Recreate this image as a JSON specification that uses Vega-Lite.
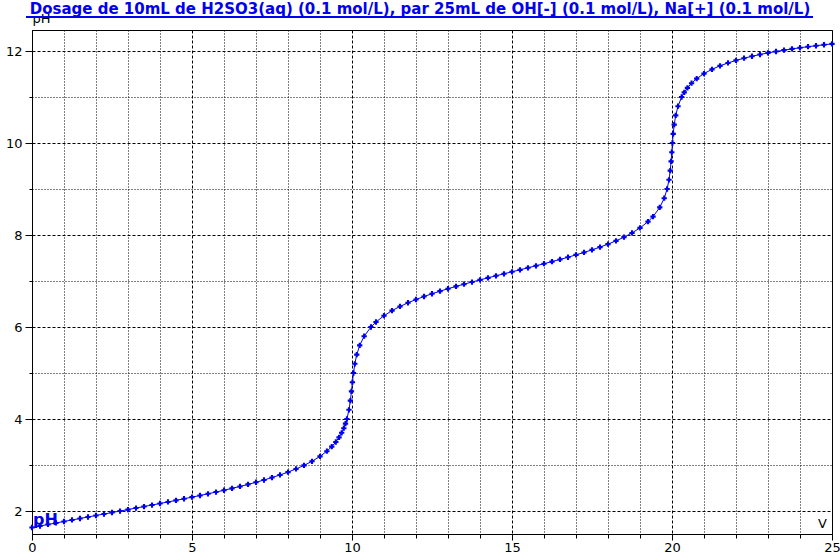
{
  "$schema": "https://vega.github.io/schema/vega-lite/v6.json",
  "width": 800,
  "height": 504,
  "autosize": {"type": "none"},
  "padding": {"left": 32, "top": 30, "right": 8, "bottom": 26},
  "background": "white",
  "config": {"view": {"stroke": "black", "strokeWidth": 1}, "font": "DejaVu Sans"},
  "title": {
    "text": "Dosage de 10mL de H2SO3(aq) (0.1 mol/L),  par 25mL  de OH[-] (0.1 mol/L), Na[+] (0.1 mol/L)",
    "font": "DejaVu Sans", "fontSize": 15, "fontWeight": "bold", "color": "#0000f0",
    "anchor": "middle", "frame": "group", "dx": -12, "offset": -17, "baseline": "alphabetic"
  },
  "data": {"values": [
    {"V": 0, "pH": 1.641}, {"V": 0.25, "pH": 1.674}, {"V": 0.5, "pH": 1.707}, {"V": 0.75, "pH": 1.740},
    {"V": 1, "pH": 1.772}, {"V": 1.25, "pH": 1.805}, {"V": 1.5, "pH": 1.837}, {"V": 1.75, "pH": 1.870},
    {"V": 2, "pH": 1.902}, {"V": 2.25, "pH": 1.934}, {"V": 2.5, "pH": 1.967}, {"V": 2.75, "pH": 1.999},
    {"V": 3, "pH": 2.031}, {"V": 3.25, "pH": 2.064}, {"V": 3.5, "pH": 2.097}, {"V": 3.75, "pH": 2.130},
    {"V": 4, "pH": 2.163}, {"V": 4.25, "pH": 2.197}, {"V": 4.5, "pH": 2.231}, {"V": 4.75, "pH": 2.266},
    {"V": 5, "pH": 2.301}, {"V": 5.25, "pH": 2.337}, {"V": 5.5, "pH": 2.374}, {"V": 5.75, "pH": 2.412},
    {"V": 6, "pH": 2.451}, {"V": 6.25, "pH": 2.492}, {"V": 6.5, "pH": 2.534}, {"V": 6.75, "pH": 2.578},
    {"V": 7, "pH": 2.625}, {"V": 7.25, "pH": 2.674}, {"V": 7.5, "pH": 2.727}, {"V": 7.75, "pH": 2.784},
    {"V": 8, "pH": 2.846}, {"V": 8.25, "pH": 2.914}, {"V": 8.5, "pH": 2.991}, {"V": 8.75, "pH": 3.081},
    {"V": 9, "pH": 3.187}, {"V": 9.215, "pH": 3.3}, {"V": 9.368, "pH": 3.4}, {"V": 9.494, "pH": 3.5},
    {"V": 9.595, "pH": 3.6}, {"V": 9.677, "pH": 3.7}, {"V": 9.744, "pH": 3.8}, {"V": 9.797, "pH": 3.9},
    {"V": 9.841, "pH": 4.0}, {"V": 9.905, "pH": 4.2}, {"V": 9.949, "pH": 4.4}, {"V": 9.983, "pH": 4.6},
    {"V": 10.013, "pH": 4.8}, {"V": 10.046, "pH": 5.0}, {"V": 10.088, "pH": 5.2}, {"V": 10.149, "pH": 5.4},
    {"V": 10.241, "pH": 5.6}, {"V": 10.38, "pH": 5.8}, {"V": 10.592, "pH": 6.0},
    {"V": 10.75, "pH": 6.109}, {"V": 11, "pH": 6.246}, {"V": 11.25, "pH": 6.355}, {"V": 11.5, "pH": 6.447},
    {"V": 11.75, "pH": 6.527}, {"V": 12, "pH": 6.598}, {"V": 12.25, "pH": 6.663}, {"V": 12.5, "pH": 6.723},
    {"V": 12.75, "pH": 6.779}, {"V": 13, "pH": 6.832}, {"V": 13.25, "pH": 6.883}, {"V": 13.5, "pH": 6.931},
    {"V": 13.75, "pH": 6.978}, {"V": 14, "pH": 7.024}, {"V": 14.25, "pH": 7.069}, {"V": 14.5, "pH": 7.113},
    {"V": 14.75, "pH": 7.157}, {"V": 15, "pH": 7.2}, {"V": 15.25, "pH": 7.243}, {"V": 15.5, "pH": 7.287},
    {"V": 15.75, "pH": 7.331}, {"V": 16, "pH": 7.376}, {"V": 16.25, "pH": 7.422}, {"V": 16.5, "pH": 7.469},
    {"V": 16.75, "pH": 7.517}, {"V": 17, "pH": 7.568}, {"V": 17.25, "pH": 7.621}, {"V": 17.5, "pH": 7.677},
    {"V": 17.75, "pH": 7.737}, {"V": 18, "pH": 7.802}, {"V": 18.25, "pH": 7.873}, {"V": 18.5, "pH": 7.953},
    {"V": 18.75, "pH": 8.045}, {"V": 19, "pH": 8.154}, {"V": 19.25, "pH": 8.291}, {"V": 19.407, "pH": 8.4},
    {"V": 19.618, "pH": 8.6}, {"V": 19.757, "pH": 8.8}, {"V": 19.847, "pH": 9.0}, {"V": 19.906, "pH": 9.2},
    {"V": 19.945, "pH": 9.4}, {"V": 19.972, "pH": 9.6}, {"V": 19.994, "pH": 9.8}, {"V": 20.014, "pH": 10.0},
    {"V": 20.038, "pH": 10.2}, {"V": 20.069, "pH": 10.4}, {"V": 20.116, "pH": 10.6}, {"V": 20.188, "pH": 10.8},
    {"V": 20.301, "pH": 11.0}, {"V": 20.383, "pH": 11.1}, {"V": 20.482, "pH": 11.2}, {"V": 20.611, "pH": 11.3},
    {"V": 20.772, "pH": 11.4}, {"V": 21, "pH": 11.509}, {"V": 21.25, "pH": 11.602}, {"V": 21.5, "pH": 11.678},
    {"V": 21.75, "pH": 11.741}, {"V": 22, "pH": 11.796}, {"V": 22.25, "pH": 11.844}, {"V": 22.5, "pH": 11.886},
    {"V": 22.75, "pH": 11.924}, {"V": 23, "pH": 11.959}, {"V": 23.25, "pH": 11.99}, {"V": 23.5, "pH": 12.019},
    {"V": 23.75, "pH": 12.046}, {"V": 24, "pH": 12.071}, {"V": 24.25, "pH": 12.094}, {"V": 24.5, "pH": 12.115},
    {"V": 24.75, "pH": 12.136}, {"V": 25, "pH": 12.155}
  ]},
  "encoding": {
    "x": {
      "field": "V", "type": "quantitative",
      "scale": {"domain": [0, 25], "nice": false, "zero": false},
      "axis": {
        "values": [0,1,2,3,4,5,6,7,8,9,10,11,12,13,14,15,16,17,18,19,20,21,22,23,24,25],
        "format": "d",
        "labelExpr": "datum.value % 5 === 0 ? datum.label : ''",
        "grid": true, "gridColor": "black", "gridOpacity": 1, "gridWidth": 1,
        "gridDash": {"condition": {"test": "datum.value % 5 === 0", "value": [3, 2]}, "value": [1, 2]},
        "tickColor": "black", "tickWidth": 1,
        "tickSize": {"condition": {"test": "datum.value % 5 === 0", "value": 6}, "value": 4},
        "domainColor": "black", "labelColor": "black", "labelFont": "DejaVu Sans", "labelFontSize": 13,
        "labelFlush": false, "labelOverlap": false, "labelBound": false, "labelPadding": 1,
        "title": "V", "titleFont": "DejaVu Sans", "titleFontSize": 13, "titleFontWeight": "normal",
        "titleColor": "black", "titleX": 790, "titleY": -7, "titleAlign": "center", "titleBaseline": "alphabetic"
      }
    },
    "y": {
      "field": "pH", "type": "quantitative",
      "scale": {"domain": [1.5, 12.457], "nice": false, "zero": false},
      "axis": {
        "values": [2,2.5,3,3.5,4,4.5,5,5.5,6,6.5,7,7.5,8,8.5,9,9.5,10,10.5,11,11.5,12],
        "format": "d",
        "labelExpr": "datum.value % 2 === 0 ? datum.label : ''",
        "grid": true, "gridColor": "black", "gridOpacity": 1, "gridWidth": 1,
        "gridDash": {"condition": {"test": "datum.value % 2 === 0", "value": [3, 2]}, "value": [1, 2]},
        "tickColor": "black", "tickWidth": 1,
        "tickSize": {"condition": {"test": "datum.value % 2 === 0", "value": 7}, "value": 3},
        "domainColor": "black", "labelColor": "black", "labelFont": "DejaVu Sans", "labelFontSize": 13,
        "labelFlush": false, "labelOverlap": false, "labelBound": false, "labelPadding": 3,
        "title": "pH", "titleFont": "DejaVu Sans", "titleFontSize": 13, "titleFontWeight": "normal",
        "titleColor": "black", "titleAngle": 0, "titleX": 0, "titleY": -8, "titleAlign": "left", "titleBaseline": "alphabetic"
      }
    },
    "color": {
      "datum": "pH", "type": "nominal",
      "scale": {"range": ["#0000f0"]},
      "legend": {
        "orient": "none", "legendX": -15, "legendY": 482, "title": null, "padding": 0,
        "symbolSize": 0, "symbolStrokeWidth": 0, "symbolOpacity": 0, "labelOffset": 0,
        "labelFont": "DejaVu Sans", "labelFontWeight": "bold", "labelFontSize": 16, "labelColor": "#0000f0"
      }
    }
  },
  "layer": [
    {"mark": {"type": "line", "strokeWidth": 1, "interpolate": "linear"}},
    {"mark": {"type": "point", "shape": "cross", "filled": true, "size": 28, "opacity": 1}},
    {
      "mark": {"type": "rule", "clip": false, "color": "#0000f0", "strokeWidth": 1},
      "encoding": {
        "x": {"datum": -0.16, "type": "quantitative"},
        "x2": {"datum": 24.4},
        "y": {"datum": 12.74, "type": "quantitative"},
        "color": null
      }
    }
  ]
}
